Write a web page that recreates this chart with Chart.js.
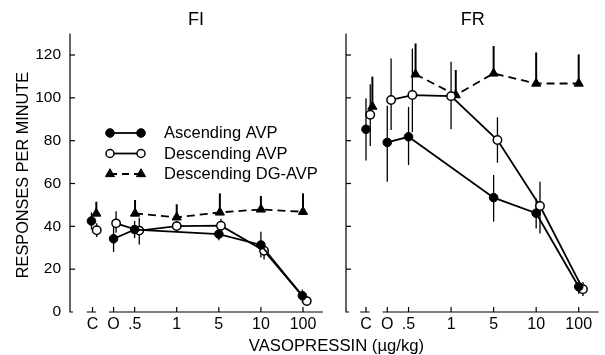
<!DOCTYPE html>
<html><head><meta charset="utf-8">
<script src="https://cdn.jsdelivr.net/npm/chart.js@4.4.1/dist/chart.umd.min.js"></script>
<style>
html,body{margin:0;padding:0;background:#fff;}
#wrap{position:relative;width:605px;height:355px;overflow:hidden;background:#fff;}
#c1{position:absolute;left:0;top:0;}
#c2{position:absolute;left:335px;top:0;}
#xt{position:absolute;left:216.5px;width:240px;top:338px;text-align:center;font:16.7px/16px "Liberation Sans",Arial,sans-serif;color:#000;white-space:nowrap;}
</style></head><body>
<div id="wrap">
<canvas id="c1" width="335" height="355"></canvas>
<canvas id="c2" width="270" height="355"></canvas>
<div id="xt">VASOPRESSIN (µg/kg)</div>
</div>
<script>
// ---------- data ----------
const categories = ['C', 'O', '.5', '1', '5', '10', '100'];
const categoryAxisPos = [0, 1, 2, 4, 6, 8, 10];
const yTickValues = [0, 20, 40, 60, 80, 100, 120];
const panelTitles = ['FI', 'FR'];
const seriesNames = ['Ascending AVP', 'Descending AVP', 'Descending DG-AVP'];
const yAxisTitle = 'RESPONSES PER MINUTE';

// FI panel
const fiAsc    = [42.5, 34.2, 38.5, null, 36.4, 31.3, 7.6];
const fiAscLo  = [38.5, 28.0, 34.5, null, 33.5, 25.5, 4.5];
const fiAscHi  = [46.5, 40.0, 42.5, null, 39.0, 37.5, 10.5];
const fiDesc   = [38.2, 41.4, 38.0, 40.1, 40.3, 28.6, 5.1];
const fiDescLo = [35.0, 37.0, 31.5, 37.5, 37.0, 24.5, 3.0];
const fiDescHi = [41.5, 47.0, 44.0, 42.5, 43.5, 32.5, 7.5];
const fiDg     = [46.0, null, 46.0, 44.2, 46.5, 47.9, 46.8];
const fiDgHi   = [51.5, null, 52.3, 50.3, 55.4, 54.2, 55.4];

// FR panel
const frAsc    = [85.3, 79.2, 81.8, null, 53.4, 46.1, 11.8];
const frAscLo  = [70.8, 60.8, 68.6, null, 42.2, 39.0, 8.5];
const frAscHi  = [99.8, 96.3, 95.8, null, 64.0, 53.0, 15.0];
const frDesc   = [92.1, 99.0, 101.3, 100.8, 80.3, 49.5, 10.6];
const frDescLo = [77.5, 85.0, 84.0, 85.3, 69.7, 36.7, 7.5];
const frDescHi = [106.3, 118.4, 123.0, 116.9, 90.9, 60.8, 14.0];
const frDg     = [95.9, null, 111.0, 101.3, 111.4, 106.7, 106.7];
const frDgHi   = [109.9, null, 125.4, 113.0, 124.2, 121.2, 120.3];

// small horizontal separations of overlapping symbols (axis units)
const SHIFT = {
  fiAsc:  [-0.05, 0, 0, 0, 0, 0, -0.03],
  fiDesc: [0.2, 0.12, 0.22, 0, 0.1, 0.15, 0.18],
  fiDg:   [0.18, 0, 0.02, 0, 0.05, 0, 0],
  frAsc:  [0, 0, 0, 0, 0, 0, 0],
  frDesc: [0.2, 0.18, 0.18, 0, 0.18, 0.18, 0.2],
  frDg:   [0.3, 0, 0.33, 0.22, 0, 0, 0]
};

// ---------- helpers ----------
const FONT = '"Liberation Sans", Arial, Helvetica, sans-serif';
Chart.defaults.font.family = FONT;
Chart.defaults.color = '#000';

function pts(vals, lo, hi, shift) {
  const out = [];
  vals.forEach((v, i) => {
    if (v === null) return;
    out.push({x: categoryAxisPos[i] + shift[i], y: v, lo: lo ? lo[i] : v, hi: hi[i]});
  });
  return out;
}

// the control point (C) is not joined to the dose-response curve
const skipControl = {borderColor: c => (c.p0.parsed.x < 0.6 ? 'rgba(0,0,0,0)' : undefined)};

function datasets(asc, ascLo, ascHi, sAsc, desc, descLo, descHi, sDesc, dg, dgHi, sDg) {
  return [
    {label: seriesNames[0], data: pts(asc, ascLo, ascHi, sAsc), borderColor: '#000', backgroundColor: '#000',
     borderWidth: 1.8, pointRadius: 4.3, pointBackgroundColor: '#000', pointBorderColor: '#000', pointBorderWidth: 1,
     errWidth: 1.3, order: 1, segment: skipControl},
    {label: seriesNames[1], data: pts(desc, descLo, descHi, sDesc), borderColor: '#000', backgroundColor: '#fff',
     borderWidth: 1.8, pointRadius: 4.2, pointBackgroundColor: '#fff', pointBorderColor: '#000', pointBorderWidth: 1.5,
     errWidth: 1.3, order: 2, segment: skipControl},
    {label: seriesNames[2], data: pts(dg, null, dgHi, sDg), borderColor: '#000', backgroundColor: '#000',
     borderWidth: 1.8, borderDash: [8, 5], pointStyle: 'triangle', pointRadius: 5.3,
     pointBackgroundColor: '#000', pointBorderColor: '#000', pointBorderWidth: 1, errWidth: 2, order: 3,
     segment: skipControl}
  ];
}

function drawMarker(ctx, style, x, y, r, fill, lw) {
  ctx.save();
  ctx.beginPath();
  if (style === 'triangle') {
    let rad = 0;
    ctx.moveTo(x + Math.sin(rad) * r, y - Math.cos(rad) * r);
    rad += 2 * Math.PI / 3;
    ctx.lineTo(x + Math.sin(rad) * r, y - Math.cos(rad) * r);
    rad += 2 * Math.PI / 3;
    ctx.lineTo(x + Math.sin(rad) * r, y - Math.cos(rad) * r);
    ctx.closePath();
  } else {
    ctx.arc(x, y, r, 0, Math.PI * 2);
  }
  ctx.fillStyle = fill;
  ctx.fill();
  ctx.lineWidth = lw;
  ctx.strokeStyle = '#000';
  ctx.stroke();
  ctx.restore();
}

function panelPlugin(panel) {
  return {
    id: 'panelDeco' + panel,
    beforeDatasetsDraw(chart) {
      const ctx = chart.ctx, xs = chart.scales.x, ys = chart.scales.y;
      chart.data.datasets.forEach(ds => {
        ctx.save();
        ctx.strokeStyle = '#000';
        ctx.lineWidth = ds.errWidth;
        ds.data.forEach(p => {
          const x = xs.getPixelForValue(p.x);
          ctx.beginPath();
          ctx.moveTo(x, ys.getPixelForValue(p.lo));
          ctx.lineTo(x, ys.getPixelForValue(p.hi));
          ctx.stroke();
        });
        ctx.restore();
      });
    },
    afterDraw(chart) {
      const ctx = chart.ctx, xs = chart.scales.x, ys = chart.scales.y, a = chart.chartArea;
      ctx.save();
      ctx.strokeStyle = '#000';
      ctx.lineWidth = 1.2;
      // y axis with foot
      ctx.beginPath();
      ctx.moveTo(a.left, a.top);
      ctx.lineTo(a.left, a.bottom);
      ctx.lineTo(a.left + 3, a.bottom);
      ctx.stroke();
      // y ticks (inward)
      yTickValues.forEach(v => {
        if (v === 0) return;
        const y = ys.getPixelForValue(v);
        ctx.beginPath();
        ctx.moveTo(a.left, y);
        ctx.lineTo(a.left + 5, y);
        ctx.stroke();
      });
      // broken x axis
      const yb = a.bottom;
      ctx.beginPath();
      ctx.moveTo(xs.getPixelForValue(categoryAxisPos[0] - 0.27), yb);
      ctx.lineTo(xs.getPixelForValue(categoryAxisPos[0] + 0.17), yb);
      ctx.moveTo(xs.getPixelForValue(categoryAxisPos[1] - 0.22), yb);
      ctx.lineTo(a.right, yb);
      ctx.stroke();
      categoryAxisPos.forEach(p => {
        const x = xs.getPixelForValue(p);
        ctx.beginPath();
        ctx.moveTo(x, yb);
        ctx.lineTo(x, yb - 5);
        ctx.stroke();
      });
      // panel title
      ctx.fillStyle = '#000';
      ctx.font = '18px ' + FONT;
      ctx.textAlign = 'center';
      ctx.textBaseline = 'middle';
      ctx.fillText(panelTitles[panel], panel === 0 ? 196 : 137.8, 20.5);
      if (panel === 0) {
        // y axis title
        ctx.save();
        ctx.translate(24, 175);
        ctx.rotate(-Math.PI / 2);
        ctx.font = '16.3px ' + FONT;
        ctx.fillText(yAxisTitle, 0, 0);
        ctx.restore();
        // legend
        const rows = [133, 153.5, 174];
        const styles = [['circle', '#000', 1, 4.3], ['circle', '#fff', 1.5, 4], ['triangle', '#000', 1, 5.3]];
        rows.forEach((ry, i) => {
          ctx.save();
          ctx.lineWidth = 1.8;
          if (i === 2) ctx.setLineDash([7, 5]);
          ctx.beginPath();
          ctx.moveTo(110, ry);
          ctx.lineTo(141, ry);
          ctx.stroke();
          ctx.restore();
          const s = styles[i];
          drawMarker(ctx, s[0], 110, ry, s[3], s[1], s[2]);
          drawMarker(ctx, s[0], 141, ry, s[3], s[1], s[2]);
          ctx.font = '16.5px ' + FONT;
          ctx.textAlign = 'left';
          ctx.textBaseline = 'middle';
          ctx.fillStyle = '#000';
          ctx.fillText(seriesNames[i], 164, ry + 0.5);
        });
      }
      ctx.restore();
    }
  };
}

function makeChart(id, panel, dsets, xmin, xmax, yWidth, padRight, showYLabels) {
  return new Chart(document.getElementById(id), {
    type: 'line',
    data: {datasets: dsets},
    options: {
      responsive: false,
      animation: false,
      devicePixelRatio: 1,
      layout: {padding: {top: 33.6, right: padRight, bottom: 0, left: 0}},
      plugins: {legend: {display: false}, tooltip: {enabled: false}, title: {display: false}},
      elements: {line: {tension: 0}},
      scales: {
        x: {
          type: 'linear', min: xmin, max: xmax,
          grid: {display: false, drawTicks: false}, border: {display: false},
          afterFit: s => { s.height = 43; },
          afterBuildTicks: s => { s.ticks = categoryAxisPos.map(v => ({value: v})); },
          ticks: {
            autoSkip: false, maxRotation: 0, padding: 3, font: {size: 16}, color: '#000',
            callback: (v) => { const i = categoryAxisPos.indexOf(v); return i >= 0 ? categories[i] : ''; }
          }
        },
        y: {
          min: 0, max: 130,
          grid: {display: false, drawTicks: false}, border: {display: false},
          afterFit: s => { s.width = yWidth; },
          afterBuildTicks: s => { s.ticks = yTickValues.map(v => ({value: v})); },
          ticks: {display: showYLabels, padding: 9, font: {size: 15.5}, color: '#000'}
        }
      }
    },
    plugins: [panelPlugin(panel)]
  });
}

makeChart('c1', 0,
  datasets(fiAsc, fiAscLo, fiAscHi, SHIFT.fiAsc, fiDesc, fiDescLo, fiDescHi, SHIFT.fiDesc, fiDg, fiDgHi, SHIFT.fiDg),
  -1.07, 10.95, 70, 12, true);
makeChart('c2', 1,
  datasets(frAsc, frAscLo, frAscHi, SHIFT.frAsc, frDesc, frDescLo, frDescHi, SHIFT.frDesc, frDg, frDgHi, SHIFT.frDg),
  -0.94, 10.94, 11, 6, false);
</script>
</body></html>
